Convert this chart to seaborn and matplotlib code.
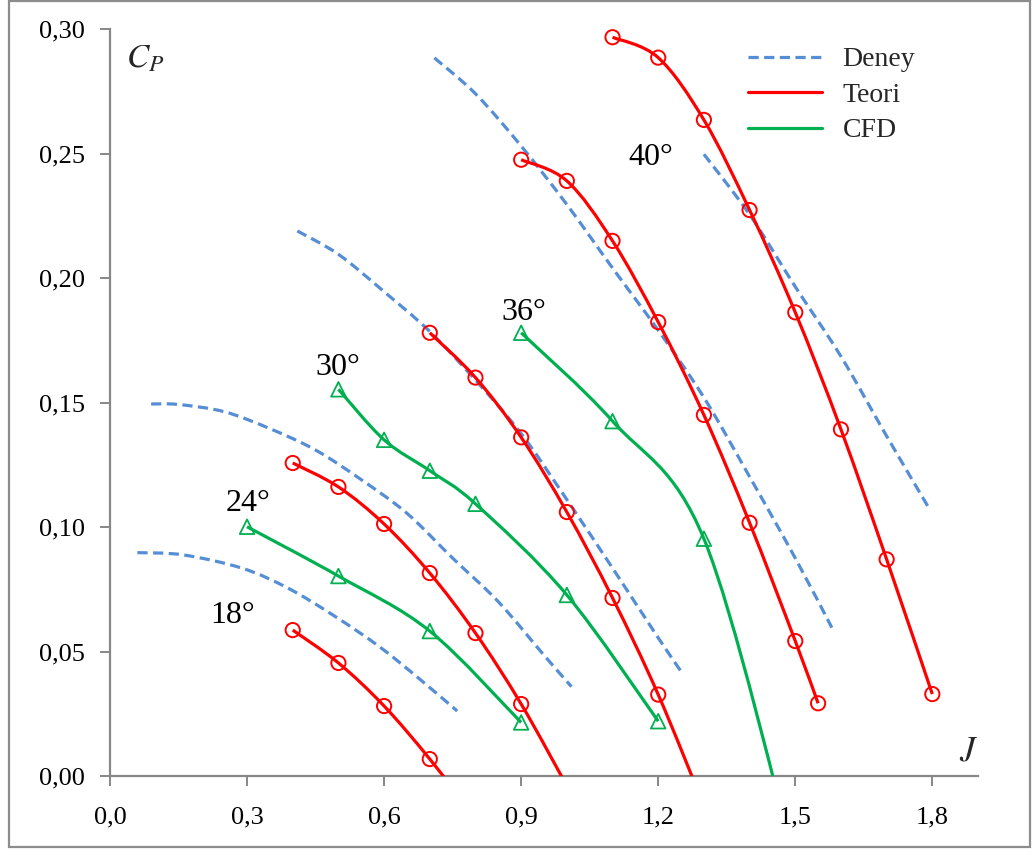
import numpy as np
import pandas as pd
import matplotlib
matplotlib.use("Agg")
import matplotlib.pyplot as plt
import seaborn as sns
from matplotlib.path import Path
from matplotlib.patches import PathPatch, Rectangle
from matplotlib.lines import Line2D
from matplotlib.ticker import FuncFormatter, FixedLocator

# ---------------- data ----------------
# Deney (experiment), dashed blue
deney_18_j = [0.06, 0.16, 0.29, 0.39, 0.49, 0.59, 0.68, 0.76]
deney_18_cp = [0.0897, 0.0888, 0.0834, 0.0754, 0.0644, 0.0519, 0.0386, 0.0261]
deney_24_j = [0.09, 0.15, 0.25, 0.35, 0.45, 0.55, 0.65, 0.75, 0.85, 0.95, 1.01]
deney_24_cp = [0.1494, 0.1492, 0.1463, 0.1395, 0.1309, 0.1190, 0.1055, 0.0875, 0.0700, 0.0485, 0.0359]
deney_30_j = [0.41, 0.50, 0.60, 0.70, 0.80, 0.90, 1.00, 1.10, 1.20, 1.25]
deney_30_cp = [0.2189, 0.2095, 0.1945, 0.1785, 0.1590, 0.1375, 0.1110, 0.0835, 0.0555, 0.0420]
deney_36_j = [0.71, 0.80, 0.90, 1.00, 1.10, 1.20, 1.30, 1.40, 1.50, 1.58]
deney_36_cp = [0.2884, 0.2740, 0.2530, 0.2295, 0.2040, 0.1790, 0.1520, 0.1202, 0.0875, 0.0596]
deney_40_j = [1.30, 1.40, 1.50, 1.60, 1.70, 1.79]
deney_40_cp = [0.2497, 0.2255, 0.1965, 0.1685, 0.1365, 0.1084]

# Teori (theory), red with circles (points below 0 lie outside the plot)
teori_18_j = [0.4, 0.5, 0.6, 0.7, 0.8]
teori_18_cp = [0.0586, 0.0454, 0.0281, 0.0068, -0.017]
teori_24_j = [0.4, 0.5, 0.6, 0.7, 0.8, 0.9, 1.0]
teori_24_cp = [0.1257, 0.1161, 0.1012, 0.0815, 0.0574, 0.0289, -0.004]
teori_30_j = [0.7, 0.8, 0.9, 1.0, 1.1, 1.2, 1.3]
teori_30_cp = [0.1780, 0.1600, 0.1360, 0.1060, 0.0715, 0.0327, -0.012]
teori_36_j = [0.9, 1.0, 1.1, 1.2, 1.3, 1.4, 1.5, 1.55]
teori_36_cp = [0.2475, 0.2390, 0.2149, 0.1823, 0.1450, 0.1017, 0.0542, 0.0292]
teori_40_j = [1.1, 1.2, 1.3, 1.4, 1.5, 1.6, 1.7, 1.8]
teori_40_cp = [0.2967, 0.2885, 0.2635, 0.2273, 0.1862, 0.1392, 0.0870, 0.0329]

# CFD, green with triangles
cfd_24_j = [0.3, 0.5, 0.7, 0.9]
cfd_24_cp = [0.1001, 0.0803, 0.0582, 0.0215]
cfd_30_j = [0.5, 0.6, 0.7, 0.8, 1.0, 1.2]
cfd_30_cp = [0.1553, 0.1350, 0.1226, 0.1093, 0.0727, 0.0220]
cfd_36_j = [0.9, 1.1, 1.3, 1.5]
cfd_36_cp = [0.1780, 0.1425, 0.0953, -0.035]

angle_labels = ["18°", "24°", "30°", "36°", "40°"]
x_ticks = [0.0, 0.3, 0.6, 0.9, 1.2, 1.5, 1.8]
y_ticks = [0.00, 0.05, 0.10, 0.15, 0.20, 0.25, 0.30]
legend_labels = ["Deney", "Teori", "CFD"]

# ---------------- style ----------------
sns.set_theme(style="white")
plt.rcParams["font.family"] = ["Liberation Serif", "DejaVu Serif"]
plt.rcParams["mathtext.fontset"] = "stix"

BLUE = "#558ED5"
RED = "#FF0000"
GREEN = "#00B050"
GREY = "#878787"

W, H = 1034, 852
fig = plt.figure(figsize=(W / 100, H / 100), dpi=100)
ax = fig.add_axes([110 / W, 1 - 776 / H, 868 / W, 747 / H])
ax.set_xlim(0, 1.9)
ax.set_ylim(0, 0.30)


def smooth_path(x, y):
    """Excel-like smoothed line: Catmull-Rom segments as cubic Beziers."""
    pts = np.column_stack([np.asarray(x, float), np.asarray(y, float)])
    n = len(pts)
    verts = [pts[0]]
    codes = [Path.MOVETO]
    for i in range(n - 1):
        p0 = pts[i - 1] if i > 0 else pts[i]
        p1 = pts[i]
        p2 = pts[i + 1]
        p3 = pts[i + 2] if i + 2 < n else pts[i + 1]
        verts += [p1 + (p2 - p0) / 6.0, p2 - (p3 - p1) / 6.0, p2]
        codes += [Path.CURVE4] * 3
    return Path(verts, codes)


def draw_line(x, y, color, dashed=False, z=2):
    ls = (0, (3.2, 1.7)) if dashed else "-"
    patch = PathPatch(smooth_path(x, y), fill=False, edgecolor=color,
                      lw=2.3, linestyle=ls, capstyle="butt",
                      joinstyle="round", zorder=z)
    ax.add_patch(patch)


deney = [(deney_18_j, deney_18_cp), (deney_24_j, deney_24_cp),
         (deney_30_j, deney_30_cp), (deney_36_j, deney_36_cp),
         (deney_40_j, deney_40_cp)]
teori = [(teori_18_j, teori_18_cp), (teori_24_j, teori_24_cp),
         (teori_30_j, teori_30_cp), (teori_36_j, teori_36_cp),
         (teori_40_j, teori_40_cp)]
cfd = [(cfd_24_j, cfd_24_cp), (cfd_30_j, cfd_30_cp), (cfd_36_j, cfd_36_cp)]

for j, cp in deney:
    draw_line(j, cp, BLUE, dashed=True, z=2)

for j, cp in teori:
    draw_line(j, cp, RED, z=3)
    df = pd.DataFrame({"J": j, "Cp": cp})
    df = df[df["Cp"] >= 0]
    sns.scatterplot(data=df, x="J", y="Cp", ax=ax, marker="o", s=105,
                    facecolor="none", edgecolor=RED, linewidth=1.4,
                    zorder=4, legend=False)

for j, cp in cfd:
    draw_line(j, cp, GREEN, z=3)
    df = pd.DataFrame({"J": j, "Cp": cp})
    df = df[df["Cp"] >= 0]
    sns.scatterplot(data=df, x="J", y="Cp", ax=ax, marker="^", s=110,
                    facecolor="none", edgecolor=GREEN, linewidth=1.3,
                    zorder=4, legend=False)

# angle annotations
label_pos = [(0.269, 0.0643), (0.302, 0.1096), (0.499, 0.1639),
             (0.906, 0.1860), (1.184, 0.2482)]
for lab, (lx, ly) in zip(angle_labels, label_pos):
    ax.text(lx, ly, lab, fontsize=23, ha="center", va="center", color="black")

# axis titles inside the plot
ax.text(0.077, 0.288, r"$C_P$", fontsize=24, ha="center", va="center")
ax.text(1.880, 0.0095, r"$J$", fontsize=25, ha="center", va="center")

# axes styling
for s in ["top", "right"]:
    ax.spines[s].set_visible(False)
for s in ["left", "bottom"]:
    ax.spines[s].set_color(GREY)
    ax.spines[s].set_linewidth(1.6)
ax.set_xlabel("")
ax.set_ylabel("")
ax.xaxis.set_major_locator(FixedLocator(x_ticks))
ax.yaxis.set_major_locator(FixedLocator(y_ticks))
ax.xaxis.set_major_formatter(FuncFormatter(lambda v, p: f"{v:.1f}".replace(".", ",")))
ax.yaxis.set_major_formatter(FuncFormatter(lambda v, p: f"{v:.2f}".replace(".", ",")))
ax.tick_params(axis="both", which="major", direction="out", length=7,
               width=1.4, color=GREY, labelsize=19, labelcolor="black",
               bottom=True, left=True)
ax.tick_params(axis="x", pad=15)
ax.tick_params(axis="y", pad=11)
ax.grid(False)

# legend
handles = [Line2D([], [], color=BLUE, lw=2.3, linestyle=(0, (3.2, 1.7))),
           Line2D([], [], color=RED, lw=2.3),
           Line2D([], [], color=GREEN, lw=2.3)]
leg = ax.legend(handles, legend_labels, loc="upper left",
                bbox_to_anchor=((748 - 110) / 868, (776 - 47) / 747),
                frameon=False, fontsize=20, handlelength=2.65,
                handletextpad=0.75, labelspacing=0.36, borderpad=0,
                borderaxespad=0)

# outer chart border
fig.patches.append(Rectangle((9 / W, 5 / H), (1030 - 9) / W, (851 - 5) / H,
                             transform=fig.transFigure, fill=False,
                             edgecolor="#8C8C8C", lw=1.6, zorder=0))

fig.savefig("out.png", dpi=100)
